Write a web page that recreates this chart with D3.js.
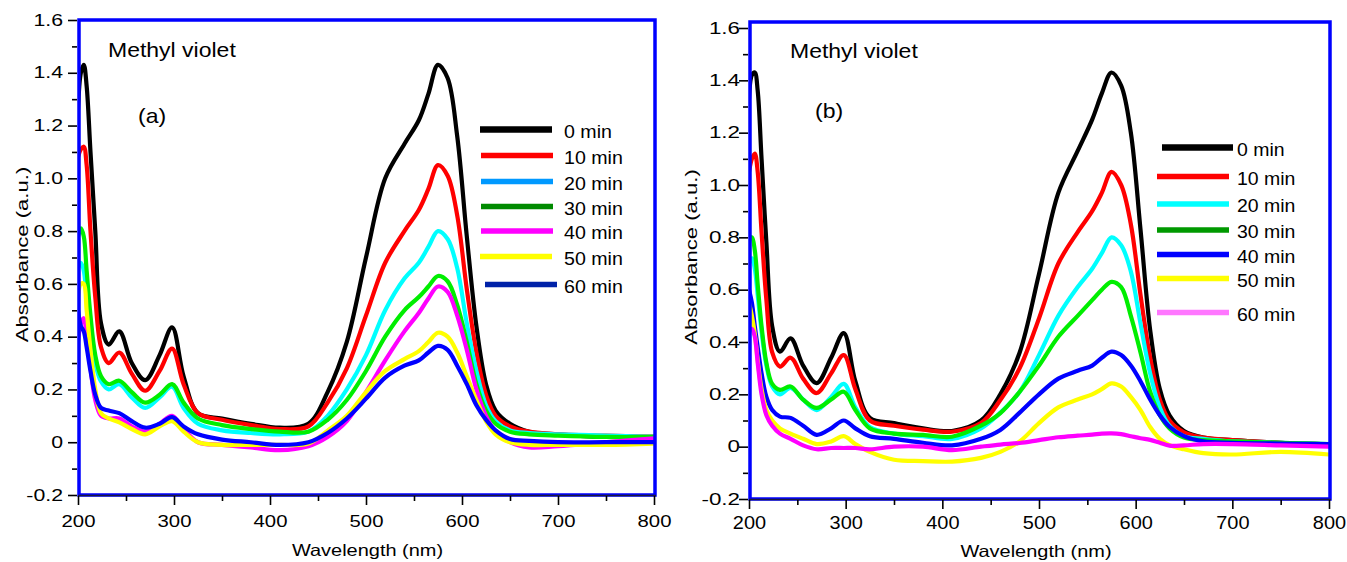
<!DOCTYPE html>
<html>
<head>
<meta charset="utf-8">
<script src="https://cdn.jsdelivr.net/npm/d3@7"></script>
<style>
  html, body { margin: 0; padding: 0; background: #fff; }
  svg { display: block; font-family: "Liberation Sans", Arial, Helvetica, sans-serif; }
</style>
</head>
<body>
<svg id="chart" width="1347" height="562"></svg>
<script>
// ---- Shared axes -------------------------------------------------------
const wavelengths = [200, 203, 206, 209, 213, 218, 224, 232, 243, 256, 270, 285, 298, 310, 325, 350, 380, 410, 440, 460, 480, 500, 520, 540, 555, 565, 575, 585, 595, 605, 615, 625, 635, 650, 670, 700, 750, 800];
const seriesNames = ["0 min", "10 min", "20 min", "30 min", "40 min", "50 min", "60 min"];
const xTickValues = [200, 300, 400, 500, 600, 700, 800];
const xMinorValues = [250, 350, 450, 550, 650, 750];
const yTickValues = [-0.2, 0, 0.2, 0.4, 0.6, 0.8, 1.0, 1.2, 1.4, 1.6];
const yTickLabels = ["-0.2", "0", "0.2", "0.4", "0.6", "0.8", "1.0", "1.2", "1.4", "1.6"];
const yMinorValues = [-0.1, 0.1, 0.3, 0.5, 0.7, 0.9, 1.1, 1.3, 1.5];

// ---- Panel (a): absorbance vs wavelength --------------------------------
const a0min  = [1.26, 1.40, 1.43, 1.35, 1.10, 0.80, 0.45, 0.37, 0.42, 0.30, 0.235, 0.33, 0.435, 0.25, 0.11, 0.09, 0.07, 0.055, 0.07, 0.19, 0.38, 0.70, 1.00, 1.13, 1.22, 1.32, 1.43, 1.38, 1.16, 0.78, 0.44, 0.22, 0.12, 0.07, 0.04, 0.03, 0.02, 0.02];
const a10min = [1.08, 1.11, 1.12, 1.05, 0.80, 0.55, 0.36, 0.30, 0.34, 0.26, 0.195, 0.27, 0.355, 0.22, 0.11, 0.085, 0.065, 0.05, 0.06, 0.15, 0.28, 0.48, 0.68, 0.80, 0.88, 0.96, 1.05, 1.01, 0.86, 0.58, 0.34, 0.18, 0.10, 0.06, 0.04, 0.03, 0.025, 0.02];
const a20min = [0.66, 0.68, 0.65, 0.55, 0.42, 0.30, 0.23, 0.20, 0.22, 0.17, 0.13, 0.17, 0.21, 0.13, 0.07, 0.045, 0.035, 0.03, 0.04, 0.10, 0.20, 0.33, 0.50, 0.62, 0.68, 0.74, 0.80, 0.77, 0.66, 0.45, 0.27, 0.14, 0.08, 0.045, 0.035, 0.03, 0.025, 0.02];
const a30min = [0.78, 0.81, 0.78, 0.65, 0.48, 0.33, 0.25, 0.22, 0.233, 0.19, 0.15, 0.18, 0.22, 0.15, 0.09, 0.065, 0.05, 0.04, 0.04, 0.085, 0.16, 0.27, 0.40, 0.50, 0.55, 0.59, 0.63, 0.61, 0.52, 0.38, 0.22, 0.12, 0.07, 0.04, 0.03, 0.025, 0.02, 0.02];
const a40min = [0.38, 0.45, 0.47, 0.40, 0.28, 0.16, 0.10, 0.09, 0.09, 0.06, 0.04, 0.07, 0.10, 0.05, 0.0, -0.01, -0.02, -0.03, -0.015, 0.02, 0.08, 0.19, 0.31, 0.42, 0.49, 0.545, 0.59, 0.57, 0.48, 0.35, 0.20, 0.10, 0.04, 0.0, -0.02, -0.015, 0.0, 0.015];
const a50min = [0.55, 0.60, 0.60, 0.50, 0.35, 0.20, 0.11, 0.09, 0.075, 0.05, 0.03, 0.06, 0.08, 0.04, 0.0, -0.01, -0.01, -0.01, -0.005, 0.044, 0.10, 0.19, 0.27, 0.315, 0.345, 0.38, 0.415, 0.40, 0.34, 0.25, 0.16, 0.08, 0.03, 0.0, -0.01, -0.01, -0.01, -0.005];
const a60min = [0.50, 0.44, 0.42, 0.36, 0.27, 0.18, 0.13, 0.12, 0.11, 0.08, 0.055, 0.07, 0.095, 0.06, 0.03, 0.01, 0.0, -0.01, 0.0, 0.035, 0.09, 0.165, 0.245, 0.29, 0.31, 0.34, 0.365, 0.35, 0.29, 0.22, 0.14, 0.085, 0.045, 0.012, 0.005, 0.0, 0.0, 0.0];

// ---- Panel (b): absorbance vs wavelength --------------------------------
const b0min  = [1.33, 1.42, 1.43, 1.36, 1.10, 0.78, 0.46, 0.363, 0.414, 0.31, 0.243, 0.34, 0.434, 0.25, 0.11, 0.09, 0.07, 0.06, 0.10, 0.20, 0.36, 0.66, 0.97, 1.13, 1.25, 1.35, 1.43, 1.38, 1.20, 0.83, 0.446, 0.22, 0.12, 0.06, 0.035, 0.025, 0.015, 0.01];
const b10min = [1.05, 1.10, 1.12, 1.05, 0.82, 0.56, 0.36, 0.306, 0.34, 0.26, 0.205, 0.28, 0.35, 0.22, 0.10, 0.08, 0.065, 0.057, 0.09, 0.178, 0.30, 0.49, 0.70, 0.82, 0.90, 0.97, 1.05, 1.00, 0.85, 0.58, 0.34, 0.18, 0.10, 0.055, 0.035, 0.025, 0.015, 0.01];
const b20min = [0.70, 0.72, 0.68, 0.58, 0.44, 0.31, 0.23, 0.20, 0.225, 0.18, 0.14, 0.19, 0.24, 0.15, 0.075, 0.05, 0.04, 0.03, 0.07, 0.13, 0.21, 0.35, 0.50, 0.61, 0.68, 0.74, 0.80, 0.77, 0.67, 0.47, 0.28, 0.15, 0.08, 0.04, 0.03, 0.02, 0.015, 0.01];
const b30min = [0.80, 0.80, 0.75, 0.62, 0.46, 0.32, 0.24, 0.217, 0.23, 0.18, 0.148, 0.18, 0.21, 0.14, 0.07, 0.05, 0.045, 0.038, 0.08, 0.128, 0.21, 0.31, 0.42, 0.50, 0.56, 0.60, 0.63, 0.61, 0.50, 0.36, 0.21, 0.12, 0.07, 0.035, 0.025, 0.02, 0.015, 0.01];
const b40min = [0.60, 0.55, 0.46, 0.38, 0.28, 0.19, 0.14, 0.115, 0.11, 0.08, 0.045, 0.07, 0.10, 0.07, 0.04, 0.03, 0.015, 0.005, 0.03, 0.064, 0.13, 0.20, 0.26, 0.29, 0.31, 0.34, 0.363, 0.35, 0.31, 0.25, 0.18, 0.12, 0.076, 0.04, 0.02, 0.015, 0.012, 0.01];
const b50min = [0.55, 0.50, 0.43, 0.33, 0.22, 0.14, 0.10, 0.07, 0.05, 0.03, 0.01, 0.02, 0.04, 0.01, -0.02, -0.05, -0.055, -0.057, -0.043, -0.02, 0.02, 0.09, 0.15, 0.18, 0.20, 0.22, 0.242, 0.23, 0.19, 0.14, 0.075, 0.03, 0.006, -0.01, -0.025, -0.03, -0.02, -0.03];
const b60min = [0.45, 0.45, 0.42, 0.32, 0.20, 0.12, 0.08, 0.05, 0.03, 0.005, -0.01, -0.005, -0.005, -0.005, -0.01, 0.0, 0.0, -0.013, 0.0, 0.008, 0.014, 0.025, 0.036, 0.042, 0.046, 0.05, 0.051, 0.048, 0.04, 0.032, 0.026, 0.015, 0.004, 0.005, 0.01, 0.01, 0.005, 0.0];

// ---- Colours -------------------------------------------------------------
const curveColorsA  = ["#000000", "#ff0000", "#00ffff", "#00ee00", "#ff00ff", "#ffff00", "#0000ff"];
const legendColorsA = ["#000000", "#ff0000", "#0099ff", "#008a00", "#ff00ff", "#ffff00", "#0022a8"];
const curveColorsB  = ["#000000", "#ff0000", "#00ffff", "#00ee00", "#0000ff", "#ffff00", "#ff00ff"];
const legendColorsB = ["#000000", "#ff0000", "#00ffff", "#009900", "#0000ff", "#ffff00", "#ff77ff"];

// ---- Layout --------------------------------------------------------------
const panels = [
  {
    id: "a", series: [a0min, a10min, a20min, a30min, a40min, a50min, a60min],
    curveColors: curveColorsA, legendColors: legendColorsA,
    xRange: [78, 654], yRange: [495, 20], frameTop: 20,
    yLabelEnd: 14, tickFont: 16, yTickStretch: 1.33, xTickStretch: 1.27, xTickTop: 20,
    yTitle: { x: 28, y: 254.5 }, xTitle: { x: 367.5, y: 556.5 },
    title: { x: 108, y: 57 }, tag: { x: 138, y: 123, text: "(a)" },
    legend: { textX: 564, rows: [129.5, 155.5, 181.5, 206.5, 231, 256.5, 284.5],
              lineX: [[480, 552], [481, 553], [481, 553], [481, 553], [481, 553], [480, 552], [485, 557]],
              font: 18.5, stretch: 1.06 }
  },
  {
    id: "b", series: [b0min, b10min, b20min, b30min, b40min, b50min, b60min],
    curveColors: curveColorsB, legendColors: legendColorsB,
    xRange: [749, 1329], yRange: [499, 28], frameTop: 22,
    yLabelEnd: 8, tickFont: 16, yTickStretch: 1.4, xTickStretch: 1.05, xTickTop: 16,
    tickFontX: 19,
    yTitle: { x: 697, y: 257 }, xTitle: { x: 1036, y: 557 },
    title: { x: 790, y: 58 }, tag: { x: 815, y: 118, text: "(b)" },
    legend: { textX: 1237, rows: [147.5, 176.5, 204, 230, 254.5, 278.5, 312.5],
              lineX: [[1162, 1233], [1157, 1229], [1157, 1229], [1157, 1229], [1157, 1229], [1157, 1229], [1157, 1229]],
              font: 17.7, stretch: 1.1 }
  }
];

const svg = d3.select("#chart");
svg.append("rect").attr("width", 1347).attr("height", 562).attr("fill", "#fff");

// Horizontal glyph stretch about a pivot point
function stretchAbout(sel, s) {
  sel.each(function () {
    const t = d3.select(this);
    const x = +t.attr("x") || 0;
    const y = +t.attr("y") || 0;
    t.attr("transform", `translate(${x},${y}) scale(${s},1) translate(${-x},${-y})`);
  });
}

panels.forEach(p => {
  const x = d3.scaleLinear().domain([200, 800]).range(p.xRange);
  const y = d3.scaleLinear().domain([-0.2, 1.6]).range(p.yRange);
  const g = svg.append("g").attr("class", "panel-" + p.id);

  const clipId = "clip-" + p.id;
  g.append("clipPath").attr("id", clipId).append("rect")
    .attr("x", x(200)).attr("y", p.frameTop)
    .attr("width", x(800) - x(200)).attr("height", y(-0.2) - p.frameTop);

  // Spectra
  const line = d3.line()
    .x((d, i) => x(wavelengths[i]))
    .y(d => y(d))
    .curve(d3.curveCatmullRom.alpha(0.5));
  g.append("g").attr("clip-path", `url(#${clipId})`)
    .selectAll("path").data(p.series).join("path")
    .attr("d", line)
    .attr("fill", "none")
    .attr("stroke", (d, i) => p.curveColors[i])
    .attr("stroke-width", 4.2)
    .attr("stroke-linejoin", "round")
    .attr("stroke-linecap", "round");

  // Blue plot frame
  g.append("rect")
    .attr("x", x(200) + 1).attr("y", p.frameTop)
    .attr("width", x(800) - x(200)).attr("height", y(-0.2) - p.frameTop)
    .attr("fill", "none").attr("stroke", "#0000ff").attr("stroke-width", 3.5);
  g.append("line")
    .attr("x1", x(200)).attr("x2", x(800) + 2)
    .attr("y1", y(-0.2) + 0.5).attr("y2", y(-0.2) + 0.5)
    .attr("stroke", "#1a1a40").attr("stroke-width", 1.5);

  // Bottom axis
  const xAxis = g.append("g").attr("transform", `translate(0,${y(-0.2) + 1})`)
    .call(d3.axisBottom(x).tickValues(xTickValues).tickSize(9).tickPadding(p.xTickTop - 9).tickFormat(d3.format("d")))
    .call(a => a.select(".domain").remove());
  xAxis.selectAll("line").attr("stroke", "#000").attr("stroke-width", 1.6);
  xAxis.selectAll("text").attr("fill", "#000").attr("font-size", p.tickFontX || p.tickFont)
    .attr("font-family", "Liberation Sans, Arial, sans-serif");
  stretchAbout(xAxis.selectAll("text"), p.xTickStretch);

  const xMinor = g.append("g").attr("transform", `translate(0,${y(-0.2) + 1})`)
    .call(d3.axisBottom(x).tickValues(xMinorValues).tickSize(5).tickFormat(""))
    .call(a => a.select(".domain").remove());
  xMinor.selectAll("line").attr("stroke", "#000").attr("stroke-width", 1.6);

  // Left axis
  const yAxis = g.append("g").attr("transform", `translate(${x(200) - 1},0)`)
    .call(d3.axisLeft(y).tickValues(yTickValues).tickSize(9).tickPadding(p.yLabelEnd - 9)
      .tickFormat((d, i) => yTickLabels[i]))
    .call(a => a.select(".domain").remove());
  yAxis.selectAll("line").attr("stroke", "#000").attr("stroke-width", 1.6);
  yAxis.selectAll("text").attr("fill", "#000").attr("font-size", p.tickFont)
    .attr("font-family", "Liberation Sans, Arial, sans-serif");
  stretchAbout(yAxis.selectAll("text"), p.yTickStretch);

  const yMinor = g.append("g").attr("transform", `translate(${x(200) - 1},0)`)
    .call(d3.axisLeft(y).tickValues(yMinorValues).tickSize(5).tickFormat(""))
    .call(a => a.select(".domain").remove());
  yMinor.selectAll("line").attr("stroke", "#000").attr("stroke-width", 1.6);

  // Axis titles
  const yt = g.append("g").attr("transform", `translate(${p.yTitle.x},${p.yTitle.y}) rotate(-90)`);
  yt.append("text").attr("text-anchor", "middle").attr("font-size", 17)
    .attr("transform", "scale(1.3,1)").text("Absorbance (a.u.)");

  g.append("text").attr("x", p.xTitle.x).attr("y", p.xTitle.y)
    .attr("text-anchor", "middle").attr("font-size", 16.5)
    .text("Wavelength (nm)")
    .call(s => stretchAbout(s, 1.21));

  // In-plot labels
  g.append("text").attr("x", p.title.x).attr("y", p.title.y)
    .attr("font-size", 20).text("Methyl violet")
    .call(s => stretchAbout(s, 1.15));
  g.append("text").attr("x", p.tag.x).attr("y", p.tag.y)
    .attr("font-size", 20).text(p.tag.text)
    .call(s => stretchAbout(s, 1.15));

  // Legend
  const lg = g.append("g").attr("class", "legend");
  const rows = lg.selectAll("g").data(seriesNames).join("g");
  rows.append("line")
    .attr("x1", (d, i) => p.legend.lineX[i][0]).attr("x2", (d, i) => p.legend.lineX[i][1])
    .attr("y1", (d, i) => p.legend.rows[i]).attr("y2", (d, i) => p.legend.rows[i])
    .attr("stroke", (d, i) => p.legendColors[i])
    .attr("stroke-width", (d, i) => i === 0 ? 6.5 : 5.5);
  rows.append("text")
    .attr("x", p.legend.textX)
    .attr("y", (d, i) => p.legend.rows[i] + 8.5)
    .attr("font-size", p.legend.font)
    .text(d => d)
    .call(s => stretchAbout(s, p.legend.stretch));
});
</script>
</body>
</html>
